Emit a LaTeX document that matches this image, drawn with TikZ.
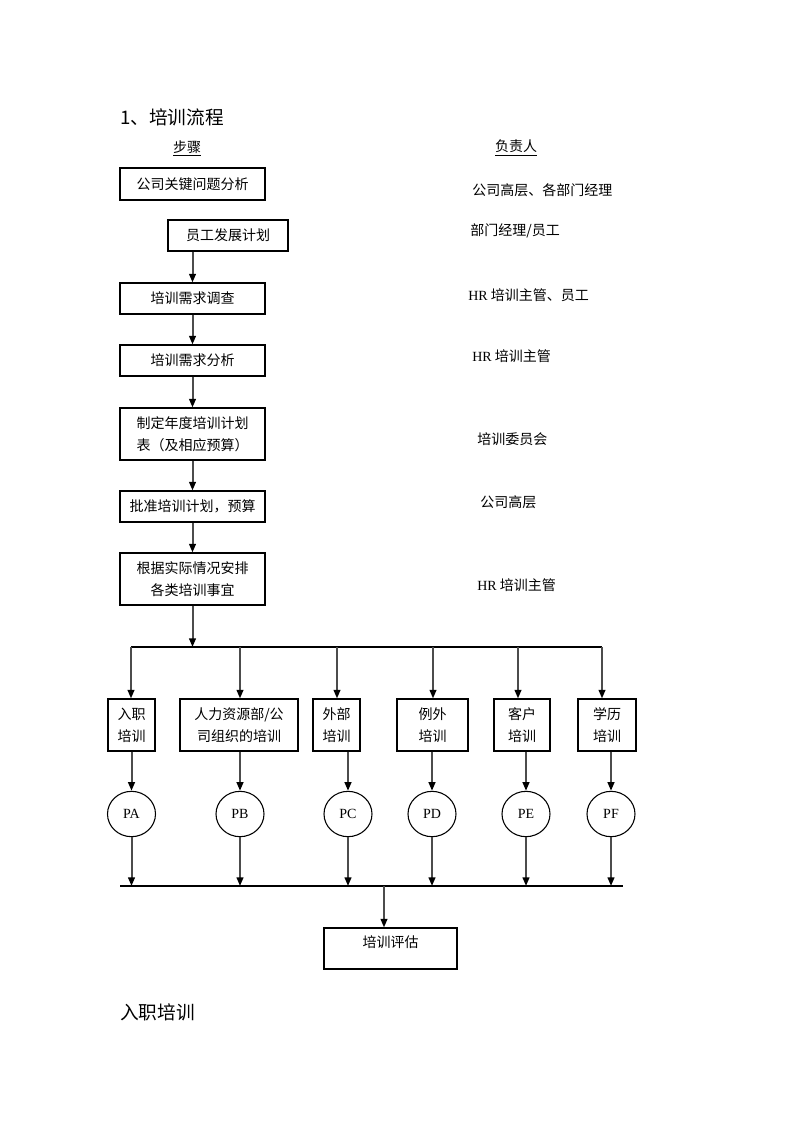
\documentclass[tikz,border=0pt]{standalone}
\usepackage{fontspec}
\setmainfont{Liberation Serif}
\newfontfamily\zh{Noto Sans CJK SC}
\usetikzlibrary{arrows.meta,shapes.geometric}

\begin{document}
\begin{tikzpicture}[x=0.75pt,y=-0.75pt,>={Triangle[length=6.5pt,width=5pt,black]},
                    every edge/.style={draw=black!70,line width=1.5pt,->},
                    font=\zh\fontsize{10.5pt}{16.5pt}\selectfont]
\tikzstyle{stepbox}=[draw,line width=0.8pt,inner sep=0pt,minimum height=23.25pt,align=center]
\tikzstyle{kindbox}=[draw,line width=0.8pt,inner sep=0pt,minimum height=39pt,align=center]
\tikzstyle{pnode}=[draw,ellipse,line width=0.8pt,minimum width=36pt,minimum height=34pt,inner sep=0pt,
                   font=\rmfamily\fontsize{10.5pt}{12pt}\selectfont]
\tikzstyle{who}=[anchor=west,inner sep=0pt]
\useasboundingbox (0,0) rectangle (793,1122);

% headings
\node [anchor=west,inner sep=0pt,font=\zh\fontsize{14pt}{16pt}\selectfont] (title) at (120,117) {1、培训流程};
\node [inner sep=0pt] (hstep) at (187,148) {\underline{步骤}};
\node [inner sep=0pt] (hwho) at (516,148) {\underline{负责人}};

% steps
\node [stepbox,minimum width=108.75pt,minimum height=24pt] (k1) at (192.5,184) {公司关键问题分析};
\node [stepbox,minimum width=90pt] (k2) at (228,235.5) {员工发展计划};
\node [stepbox,minimum width=108.75pt] (k3) at (192.5,298.5) {培训需求调查};
\node [stepbox,minimum width=108.75pt] (k4) at (192.5,360.5) {培训需求分析};
\node [stepbox,minimum width=108.75pt,minimum height=39pt] (k5) at (192.5,434) {制定年度培训计划\\表（及相应预算）};
\node [stepbox,minimum width=108.75pt] (k6) at (192.5,506.5) {批准培训计划，预算};
\node [stepbox,minimum width=108.75pt,minimum height=39pt] (k7) at (192.5,579) {根据实际情况安排\\各类培训事宜};

% who is in charge
\node [who] (r1) at (472,190) {公司高层、各部门经理};
\node [who] (r2) at (470,231) {部门经理/员工};
\node [who] (r3) at (468,295) {{\rmfamily HR} 培训主管、员工};
\node [who] (r4) at (472,356) {{\rmfamily HR} 培训主管};
\node [who] (r5) at (477,439) {培训委员会};
\node [who] (r6) at (480,502) {公司高层};
\node [who] (r7) at (477,585) {{\rmfamily HR} 培训主管};

% kinds of training
\node [kindbox,minimum width=35.25pt] (b1) at (131.5,725) {入职\\培训};
\node [kindbox,minimum width=88.5pt] (b2) at (239,725) {人力资源部/公\\司组织的培训};
\node [kindbox,minimum width=35.25pt] (b3) at (336.5,725) {外部\\培训};
\node [kindbox,minimum width=53.25pt] (b4) at (432.5,725) {例外\\培训};
\node [kindbox,minimum width=42pt] (b5) at (522,725) {客户\\培训};
\node [kindbox,minimum width=43.5pt] (b6) at (607,725) {学历\\培训};

\node [pnode] (e1) at (131.5,814) {PA};
\node [pnode] (e2) at (240,814) {PB};
\node [pnode] (e3) at (348,814) {PC};
\node [pnode] (e4) at (432,814) {PD};
\node [pnode] (e5) at (526,814) {PE};
\node [pnode] (e6) at (611,814) {PF};

\node [stepbox,minimum width=99.75pt,minimum height=30.75pt,text height=8pt,text depth=10pt] (ev) at (390.5,948.5) {培训评估};

\node [anchor=west,inner sep=0pt,font=\zh\fontsize{14pt}{16pt}\selectfont] (next) at (120,1012) {入职培训};

% split and join lines
\coordinate (s1) at (131,647);
\coordinate (s2) at (240,647);
\coordinate (s3) at (337,647);
\coordinate (s4) at (433,647);
\coordinate (s5) at (518,647);
\coordinate (s6) at (602,647);
\coordinate (jl) at (120,886);
\coordinate (jr) at (623,886);
\coordinate (jm) at (384,886);
\draw [line width=0.9pt] (s1) -- (s6);
\draw [line width=0.9pt] (jl) -- (jr);

\path (k2.south -| k3) edge (k3)
      (k3) edge (k4)
      (k4) edge (k5)
      (k5) edge (k6)
      (k6) edge (k7)
      (k7) edge (k7 |- s1);
\path (s1) edge (s1 |- b1.north)
      (s2) edge (s2 |- b2.north)
      (s3) edge (s3 |- b3.north)
      (s4) edge (s4 |- b4.north)
      (s5) edge (s5 |- b5.north)
      (s6) edge (s6 |- b6.north);
\path (b1.south -| e1) edge (e1)
      (b2.south -| e2) edge (e2)
      (b3.south -| e3) edge (e3)
      (b4.south -| e4) edge (e4)
      (b5.south -| e5) edge (e5)
      (b6.south -| e6) edge (e6);
\path (e1) edge (e1 |- jl)
      (e2) edge (e2 |- jl)
      (e3) edge (e3 |- jl)
      (e4) edge (e4 |- jl)
      (e5) edge (e5 |- jl)
      (e6) edge (e6 |- jl)
      (jm) edge (jm |- ev.north);
\end{tikzpicture}
\end{document}
